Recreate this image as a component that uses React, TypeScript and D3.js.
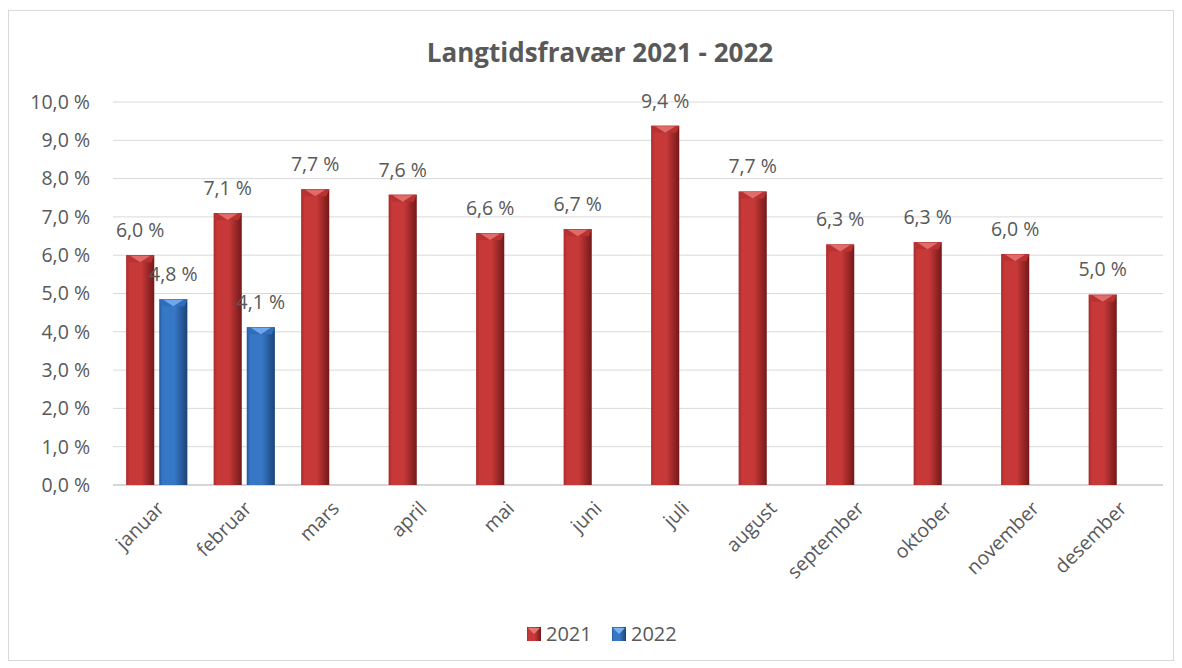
import React from "react";
import * as d3 from "d3";

const months = ["januar","februar","mars","april","mai","juni","juli","august","september","oktober","november","desember"];
const series = ["2021", "2022"];
const values2021 = [6.0, 7.1, 7.72, 7.58, 6.58, 6.68, 9.38, 7.66, 6.28, 6.34, 6.03, 4.97];
const values2022: (number | null)[] = [4.85, 4.12, null, null, null, null, null, null, null, null, null, null];
const yTicks = [0, 1, 2, 3, 4, 5, 6, 7, 8, 9, 10];
const title = "Langtidsfravær 2021 - 2022";

const W = 1182, H = 668;
const plot = { left: 113, right: 1163, top: 102, bottom: 485 };
const FONT = "'Open Sans', 'DejaVu Sans', sans-serif";
const TXT = "#595959";

const fmt = (v: number) => v.toFixed(1).replace(".", ",") + " %";

const palette: Record<string, { l: string; m: string; r: string; top: string; tri: string }> = {
  "2021": { l: "#a82a2b", m: "#c73838", r: "#731919", top: "#b93232", tri: "#e87573" },
  "2022": { l: "#23589e", m: "#3677c6", r: "#1b4378", top: "#2f6ebb", tri: "#79b3f2" },
};

function Bar({ x, y, w, h, s }: { x: number; y: number; w: number; h: number; s: string }) {
  const bev = Math.min(7, h);
  return (
    <g>
      <rect x={x} y={y} width={w} height={h} fill={`url(#grad${s})`} />
      <path d={`M${x},${y} L${x + w},${y} L${x + w - 3},${y + bev} L${x + 3},${y + bev} Z`} fill={palette[s].top} />
      <path d={`M${x + 4},${y + 0.5} L${x + w - 4},${y + 0.5} L${x + w / 2},${y + bev} Z`} fill={palette[s].tri} opacity={0.85} />
    </g>
  );
}

export default function App() {
  const x0 = d3.scaleBand<string>().domain(months).range([plot.left, plot.right]).paddingInner(0.3).paddingOuter(0.15);
  const x1 = d3.scaleBand<string>().domain(series).range([0, x0.bandwidth()]).paddingInner(0.15);
  const y = d3.scaleLinear().domain([0, 10]).range([plot.bottom, plot.top]);
  const data: Record<string, (number | null)[]> = { "2021": values2021, "2022": values2022 };

  return (
    <svg width={W} height={H} style={{ position: "absolute", left: 0, top: 0, background: "#fff" }} fontFamily={FONT}>
      <defs>
        {series.map((s) => (
          <linearGradient key={s} id={`grad${s}`} x1="0" x2="1" y1="0" y2="0">
            <stop offset="0" stopColor={palette[s].l} />
            <stop offset="0.12" stopColor={palette[s].m} />
            <stop offset="0.55" stopColor={palette[s].m} />
            <stop offset="1" stopColor={palette[s].r} />
          </linearGradient>
        ))}
      </defs>
      <rect x={8.5} y={10.5} width={1165} height={650} fill="#fff" stroke="#d9d9d9" strokeWidth={1} />
      <text x={600} y={62} textAnchor="middle" fontSize={26} fontWeight="bold" fill={TXT}>{title}</text>
      {yTicks.map((t) => (
        <g key={t}>
          <line x1={plot.left} x2={plot.right} y1={y(t)} y2={y(t)} stroke={t === 0 ? "#c8c8c8" : "#d9d9d9"} strokeWidth={t === 0 ? 1.5 : 1} />
          <text x={90} y={y(t)} dy="0.35em" textAnchor="end" fontSize={19.5} fill={TXT}>{fmt(t)}</text>
        </g>
      ))}
      {months.map((m, i) => (
        <g key={m}>
          {series.map((s) => {
            const v = data[s][i];
            if (v == null) return null;
            const bx = (x0(m) as number) + (x1(s) as number);
            const bw = x1.bandwidth();
            return (
              <g key={s}>
                <Bar x={bx} y={y(v)} w={bw} h={y(0) - y(v)} s={s} />
                <text x={bx + bw / 2} y={y(v) - 25} dy="0.35em" textAnchor="middle" fontSize={19.5} fill={TXT}>{fmt(v)}</text>
              </g>
            );
          })}
          <text
            transform={`translate(${(x0(m) as number) + x0.bandwidth() / 2 - 1},${plot.bottom + 15}) rotate(-45)`}
            textAnchor="end"
            dy="0.7em"
            fontSize={19.5}
            fill={TXT}
          >{m}</text>
        </g>
      ))}
      {series.map((s, i) => {
        const lx = 527 + i * 85;
        return (
          <g key={s}>
            <rect x={lx} y={627} width={14} height={14} fill={`url(#grad${s})`} />
            <path d={`M${lx + 1},${628} L${lx + 13},${628} L${lx + 7},${634} Z`} fill={palette[s].tri} />
            <text x={lx + 19} y={634} dy="0.35em" fontSize={20} fill={TXT}>{s}</text>
          </g>
        );
      })}
    </svg>
  );
}
